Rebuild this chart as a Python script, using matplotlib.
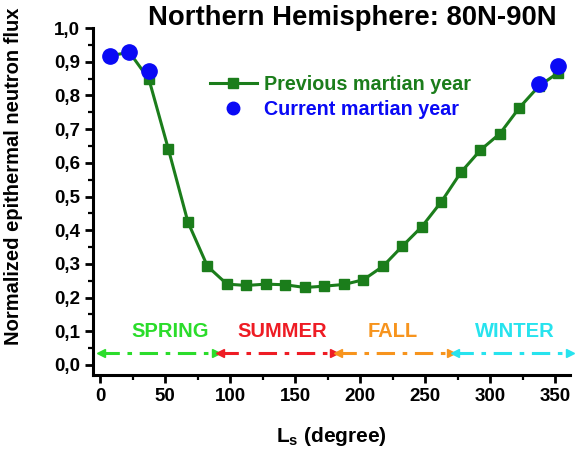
import numpy as np
import matplotlib
matplotlib.use("Agg")
import matplotlib.pyplot as plt
from matplotlib.ticker import MultipleLocator, FuncFormatter
from matplotlib.lines import Line2D

plt.rcParams['font.family'] = ['Liberation Sans', 'DejaVu Sans']
plt.rcParams['font.weight'] = 'bold'
plt.rcParams['mathtext.fontset'] = 'custom'
plt.rcParams['mathtext.rm'] = 'Liberation Sans:bold'
plt.rcParams['mathtext.bf'] = 'Liberation Sans:bold'

# data
ls_prev = [7.5, 22.5, 37.5, 52.5, 67.5, 82.5, 97.5, 112.5, 127.5, 142.5, 157.5, 172.5,
           187.5, 202.5, 217.5, 232.5, 247.5, 262.5, 277.5, 292.5, 307.5, 322.5, 337.5, 352.5]
flux_prev = [0.918, 0.928, 0.848, 0.640, 0.424, 0.293, 0.240, 0.236, 0.240, 0.238, 0.230, 0.234,
             0.239, 0.253, 0.293, 0.353, 0.411, 0.485, 0.572, 0.638, 0.687, 0.764, 0.828, 0.868]
ls_curr = [7.5, 22.5, 37.5, 337.5, 352.5]
flux_curr = [0.918, 0.928, 0.873, 0.833, 0.887]

seasons = ["SPRING", "SUMMER", "FALL", "WINTER"]
season_start = [1, 92, 183, 273]
season_end = [89, 180, 270, 361]
season_label_x = [54, 140, 225, 319]
season_colors = ["#2bdc2b", "#ee1c24", "#f7941d", "#27e3ee"]

fig = plt.figure(figsize=(5.86, 4.53), dpi=100)
ax = fig.add_axes([0.159, 0.172, 0.814, 0.766])

green = "#1b7d1b"
blue = "#0a0af5"
ax.plot(ls_prev, flux_prev, color=green, lw=2.2, marker='s', ms=7, mec=green, mfc=green, zorder=3)
ax.plot(ls_curr, flux_curr, ls='none', marker='o', ms=11, color=blue, zorder=4)

arrow_y = 0.036
for name, x0, x1, lx, c in zip(seasons, season_start, season_end, season_label_x, season_colors):
    ax.plot([x0, x1], [arrow_y, arrow_y], color=c, lw=2.2, ls=(0, (6, 2.5, 1.5, 2.5)), clip_on=False)
    ax.plot([x0], [arrow_y], marker='<', ms=6, color=c, ls='none', clip_on=False)
    ax.plot([x1], [arrow_y], marker='>', ms=6, color=c, ls='none', clip_on=False)
    ax.text(lx, 0.10, name, color=c, fontsize=14.5, fontweight='bold', ha='center', va='center')

ax.set_xlim(-5.4, 361.5)
ax.set_ylim(-0.03, 1.0)
ax.xaxis.set_major_locator(MultipleLocator(50))
ax.xaxis.set_minor_locator(MultipleLocator(25))
ax.yaxis.set_major_locator(MultipleLocator(0.1))
ax.yaxis.set_minor_locator(MultipleLocator(0.05))
ax.yaxis.set_major_formatter(FuncFormatter(lambda v, p: f"{v:.1f}".replace('.', ',')))

for s in ['top', 'right']:
    ax.spines[s].set_visible(False)
for s in ['left', 'bottom']:
    ax.spines[s].set_linewidth(2.2)
ax.tick_params(which='major', direction='out', length=6, width=2, labelsize=13.5)
ax.tick_params(which='minor', direction='out', length=3.5, width=1.6)

ax.set_xlabel(r'$\mathbf{L_s}$ (degree)', fontsize=15, fontweight='bold', labelpad=14)
ax.set_ylabel('Normalized epithermal neutron flux', fontsize=14.5, fontweight='bold')
ax.yaxis.set_label_coords(-0.147, 0.573)

fig.text(0.6015, 0.96, 'Northern Hemisphere: 80N-90N', fontsize=19.8, fontweight='bold',
         ha='center', va='center')

handles = [Line2D([], [], color=green, lw=2.2, marker='s', ms=7.5),
           Line2D([], [], color=blue, ls='none', marker='o', ms=9)]
leg = fig.legend(handles, ['Previous martian year', 'Current martian year'], loc='upper left',
                 bbox_to_anchor=(0.358, 0.834), frameon=False, handlelength=2.4,
                 handletextpad=0.35, labelspacing=0.27, borderpad=0, borderaxespad=0,
                 prop={'weight': 'bold', 'size': 14.2})
for t, c in zip(leg.get_texts(), [green, blue]):
    t.set_color(c)

fig.savefig('out.png', dpi=100)
